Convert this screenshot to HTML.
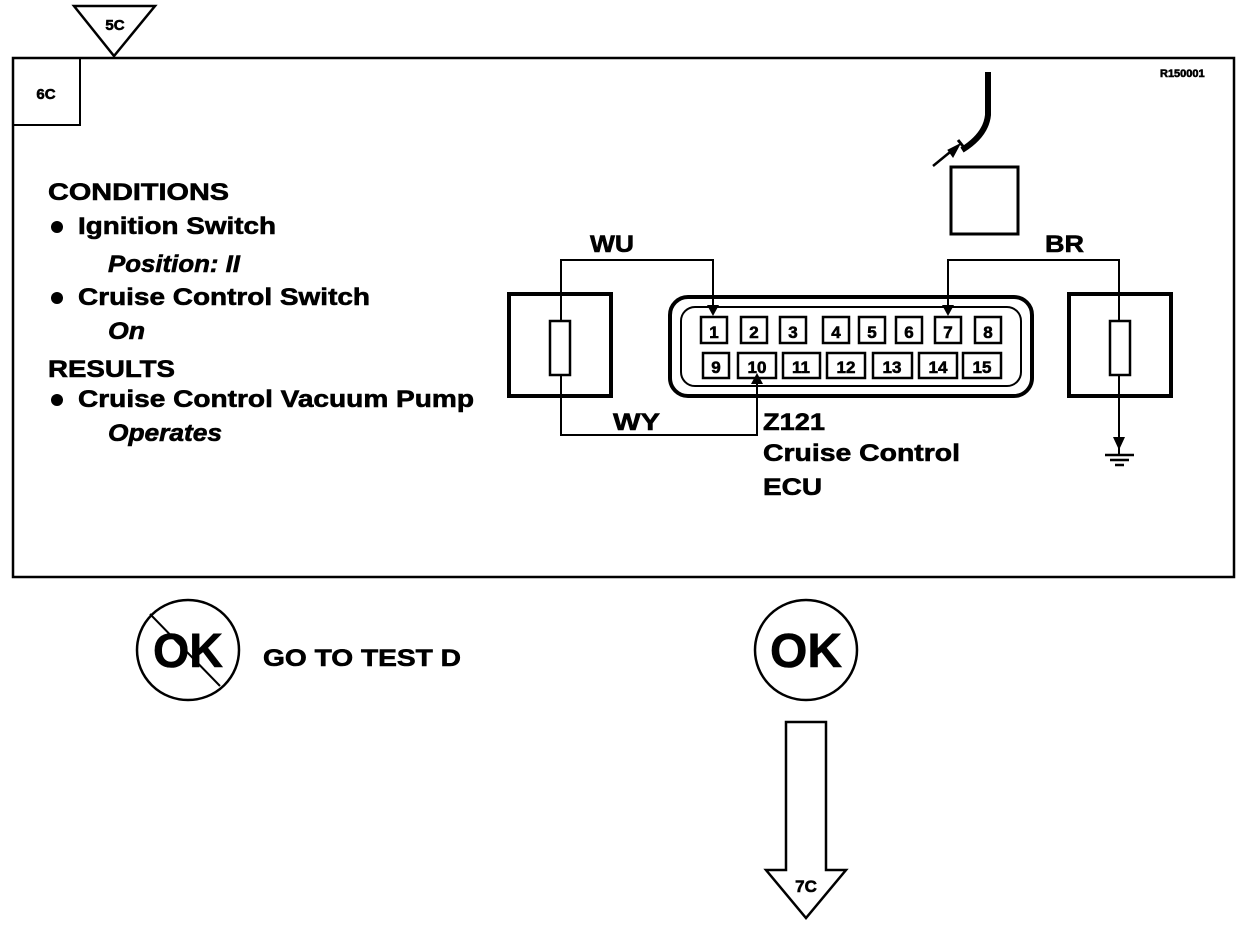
<!DOCTYPE html>
<html><head><style>
html,body{margin:0;padding:0;background:#fff;}
svg{display:block;}
text{font-family:"Liberation Sans",Arial,sans-serif;font-weight:bold;fill:#000;stroke:#000;stroke-width:0.6;}
</style></head><body>
<svg width="1248" height="928" viewBox="0 0 1248 928" xmlns="http://www.w3.org/2000/svg">
<g fill="none" stroke="#000">
<rect x="13" y="58" width="1221" height="519" stroke-width="2.5"/>
<rect x="13" y="58" width="67" height="67" stroke-width="2"/>
<polygon points="74,6 155,6 114,56" stroke-width="2.5" fill="#fff"/>
<path d="M988,72 L988,115 Q986,135 962,150" stroke-width="6"/>
<path d="M958,140 L966,150" stroke-width="3"/>
<line x1="933" y1="166" x2="955" y2="148" stroke-width="2.5"/>
<polygon points="960,144 948,150 953,157" fill="#000" stroke-width="1"/>
<rect x="951" y="167" width="67" height="67" stroke-width="3"/>
<rect x="509" y="294" width="102" height="102" stroke-width="4"/>
<rect x="550" y="321" width="20" height="54" stroke-width="2.5"/>
<rect x="1069" y="294" width="102" height="102" stroke-width="4"/>
<rect x="1110" y="321" width="20" height="54" stroke-width="2.5"/>
<rect x="670" y="297" width="362" height="99" rx="18" stroke-width="4"/>
<rect x="681" y="307" width="340" height="79" rx="14" stroke-width="2"/>
<polyline points="561,321 561,260 713,260 713,312" stroke-width="2"/>
<polyline points="561,375 561,435 757,435 757,380" stroke-width="2"/>
<polyline points="948,312 948,260 1119,260 1119,321" stroke-width="2"/>
<line x1="1119" y1="375" x2="1119" y2="455" stroke-width="2"/>
<line x1="1105" y1="455" x2="1134" y2="455" stroke-width="2.5"/>
<line x1="1110" y1="460" x2="1129" y2="460" stroke-width="2.5"/>
<line x1="1115" y1="465" x2="1124" y2="465" stroke-width="2.5"/>
<ellipse cx="188" cy="650" rx="51" ry="50" stroke-width="2.5"/>
<line x1="150" y1="614" x2="220" y2="686" stroke-width="2"/>
<ellipse cx="806" cy="650" rx="51" ry="50" stroke-width="2.5"/>
<polygon points="786,722 826,722 826,870 846,870 806,918 766,870 786,870" stroke-width="2.5"/>
</g>
<g fill="#000">
<polygon points="707,305 719,305 713,316"/>
<polygon points="942,305 954,305 948,316"/>
<polygon points="751,384 763,384 757,373"/>
<polygon points="1113,437 1125,437 1119,450"/>
</g>
<g fill="none" stroke="#000" stroke-width="2.5">
<rect x="701" y="317" width="26" height="26"/><rect x="741" y="317" width="26" height="26"/>
<rect x="780" y="317" width="26" height="26"/><rect x="823" y="317" width="26" height="26"/>
<rect x="859" y="317" width="26" height="26"/><rect x="896" y="317" width="26" height="26"/>
<rect x="935" y="317" width="26" height="26"/><rect x="975" y="317" width="26" height="26"/>
<rect x="703" y="353" width="26" height="25"/><rect x="738" y="353" width="38" height="25"/>
<rect x="783" y="353" width="37" height="25"/><rect x="827" y="353" width="38" height="25"/>
<rect x="873" y="353" width="39" height="25"/><rect x="919" y="353" width="38" height="25"/>
<rect x="963" y="353" width="38" height="25"/>
</g>
<g font-size="17" text-anchor="middle">
<text x="714" y="338">1</text><text x="754" y="338">2</text><text x="793" y="338">3</text>
<text x="836" y="338">4</text><text x="872" y="338">5</text><text x="909" y="338">6</text>
<text x="948" y="338">7</text><text x="988" y="338">8</text>
<text x="716" y="373">9</text><text x="757" y="373">10</text><text x="801" y="373">11</text>
<text x="846" y="373">12</text><text x="892" y="373">13</text><text x="938" y="373">14</text>
<text x="982" y="373">15</text>
</g>
<text x="115" y="30" font-size="15" text-anchor="middle">5C</text>
<text x="46" y="99" font-size="15" text-anchor="middle">6C</text>
<text x="1160" y="77" font-size="11" font-weight="normal" stroke-width="0">R150001</text>
<g font-size="24">
<text x="48" y="200" textLength="181" lengthAdjust="spacingAndGlyphs">CONDITIONS</text>
<text x="78" y="234" textLength="198" lengthAdjust="spacingAndGlyphs">Ignition Switch</text>
<text x="108" y="272" font-style="italic" textLength="132" lengthAdjust="spacingAndGlyphs">Position: II</text>
<text x="78" y="305" textLength="292" lengthAdjust="spacingAndGlyphs">Cruise Control Switch</text>
<text x="108" y="339" font-style="italic" textLength="37" lengthAdjust="spacingAndGlyphs">On</text>
<text x="48" y="377" textLength="127" lengthAdjust="spacingAndGlyphs">RESULTS</text>
<text x="78" y="407" textLength="396" lengthAdjust="spacingAndGlyphs">Cruise Control Vacuum Pump</text>
<text x="108" y="441" font-style="italic" textLength="114" lengthAdjust="spacingAndGlyphs">Operates</text>
<text x="590" y="252" textLength="44" lengthAdjust="spacingAndGlyphs">WU</text>
<text x="1045" y="252" textLength="39" lengthAdjust="spacingAndGlyphs">BR</text>
<text x="613" y="430" textLength="47" lengthAdjust="spacingAndGlyphs">WY</text>
<text x="763" y="430" textLength="62" lengthAdjust="spacingAndGlyphs">Z121</text>
<text x="763" y="461" textLength="197" lengthAdjust="spacingAndGlyphs">Cruise Control</text>
<text x="763" y="495" textLength="59" lengthAdjust="spacingAndGlyphs">ECU</text>
<text x="263" y="666" textLength="198" lengthAdjust="spacingAndGlyphs">GO TO TEST D</text>
</g>
<circle cx="57" cy="227" r="6" fill="#000"/>
<circle cx="57" cy="298" r="6" fill="#000"/>
<circle cx="57" cy="400" r="6" fill="#000"/>
<text x="153" y="667" font-size="48" textLength="70" lengthAdjust="spacingAndGlyphs">OK</text>
<text x="770" y="667" font-size="48" textLength="72" lengthAdjust="spacingAndGlyphs">OK</text>
<text x="806" y="892" font-size="17" text-anchor="middle">7C</text>
</svg>
</body></html>
